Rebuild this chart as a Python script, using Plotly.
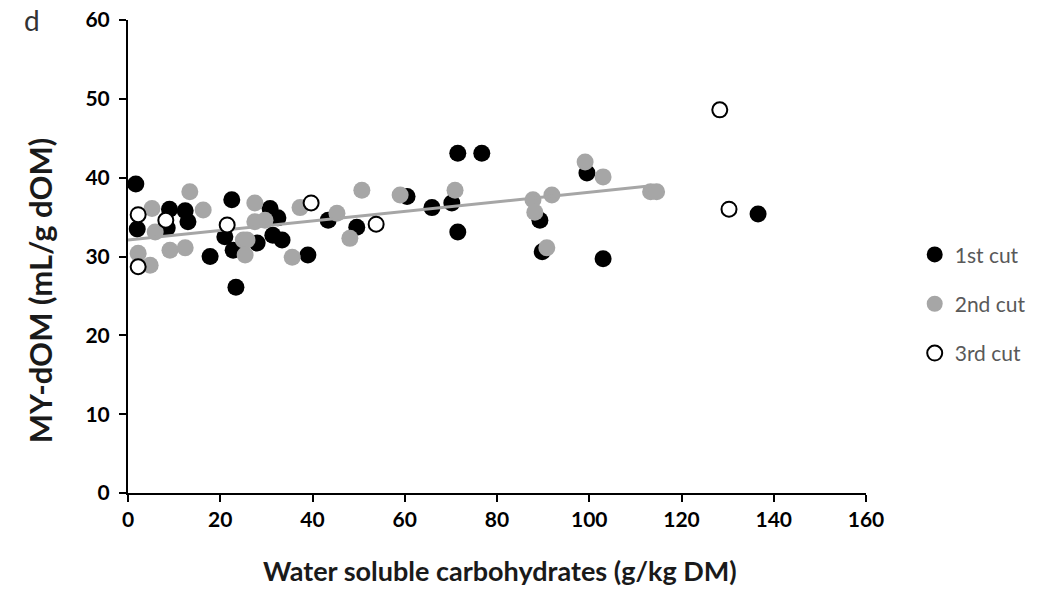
import plotly.graph_objects as go

# ---- data ----
first_x = [1.7, 2.0, 9.0, 12.4, 13.0, 8.5, 22.5, 17.8, 21.0, 22.8, 23.4, 30.8, 32.5, 31.4, 33.4, 28.0,
           39.0, 43.4, 49.6, 71.5, 76.7, 60.5, 65.9, 70.2, 71.5, 99.5, 89.3, 89.8, 103.0, 136.6]
first_y = [39.2, 33.5, 36.0, 35.8, 34.4, 33.6, 37.2, 30.0, 32.5, 30.8, 26.1, 36.1, 34.9, 32.7, 32.1, 31.7,
           30.2, 34.6, 33.7, 43.1, 43.1, 37.6, 36.2, 36.8, 33.1, 40.6, 34.6, 30.6, 29.7, 35.4]

second_x = [13.4, 5.2, 16.3, 5.9, 9.1, 12.4, 2.2, 4.8, 25.0, 27.5, 37.3, 50.7, 27.5, 25.8, 25.4, 35.6,
            45.3, 48.1, 29.7, 59.0, 70.9, 99.1, 103.0, 91.9, 87.8, 88.2, 90.8, 113.3, 114.6]
second_y = [38.2, 36.1, 35.9, 33.1, 30.8, 31.1, 30.4, 28.9, 32.1, 36.8, 36.2, 38.4, 34.4, 32.1, 30.2, 29.9,
            35.5, 32.3, 34.6, 37.8, 38.4, 42.0, 40.1, 37.8, 37.2, 35.6, 31.1, 38.2, 38.2]

third_x = [2.2, 2.2, 8.2, 21.5, 39.7, 53.8, 128.3, 130.3]
third_y = [35.3, 28.7, 34.6, 34.0, 36.8, 34.1, 48.6, 36.0]

trend_x = [0, 114]
trend_y = [32.1, 39.0]

series_names = ["1st cut", "2nd cut", "3rd cut"]
x_ticks = [0, 20, 40, 60, 80, 100, 120, 140, 160]
y_ticks = [0, 10, 20, 30, 40, 50, 60]
x_title = "Water soluble carbohydrates (g/kg DM)"
y_title = "MY-dOM (mL/g dOM)"
panel_label = "d"

FONT = "Lato"

fig = go.Figure()
fig.add_trace(go.Scatter(x=first_x, y=first_y, mode="markers", name=series_names[0],
                         legendgroup="a",
                         marker=dict(size=17, color="black", line=dict(width=0))))
fig.add_trace(go.Scatter(x=second_x, y=second_y, mode="markers", name=series_names[1],
                         legendgroup="b",
                         marker=dict(size=17, color="#a6a6a6", line=dict(width=0))))
fig.add_trace(go.Scatter(x=trend_x, y=trend_y, mode="lines", showlegend=False,
                         line=dict(color="#a6a6a6", width=3)))
fig.add_trace(go.Scatter(x=third_x, y=third_y, mode="markers", name=series_names[2],
                         legendgroup="c",
                         marker=dict(size=15, color="white", line=dict(width=2, color="black"))))

fig.update_layout(
    width=1058, height=589,
    margin=dict(l=128, r=192, t=20, b=96, autoexpand=False),
    plot_bgcolor="white", paper_bgcolor="white",
    font=dict(family=FONT, color="black"),
    showlegend=True,
    legend=dict(x=1.066, y=0.40, xanchor="left", yanchor="middle",
                font=dict(family=FONT, size=21, color="#595959"),
                tracegroupgap=19, itemwidth=30,
                bgcolor="rgba(0,0,0,0)"),
    xaxis=dict(range=[0, 160], tickvals=x_ticks, ticks="outside", ticklen=7, tickwidth=2,
               tickcolor="black", showline=True, linecolor="black", linewidth=2,
               showgrid=False, zeroline=False, automargin=False,
               tickfont=dict(family=FONT, size=21, color="black", weight="bold")),
    yaxis=dict(range=[0, 60], tickvals=y_ticks, ticks="outside", ticklen=7, tickwidth=2,
               tickcolor="black", showline=True, linecolor="black", linewidth=2,
               showgrid=False, zeroline=False, ticklabelstandoff=5, automargin=False,
               tickfont=dict(family=FONT, size=21, color="black", weight="bold")),
    annotations=[
        dict(text=panel_label, xref="paper", yref="paper", x=-0.13, y=1.0,
             xanchor="center", yanchor="middle", showarrow=False,
             font=dict(family=FONT, size=28, color="#333333")),
        dict(text=x_title, xref="paper", yref="paper", x=0.504, y=-0.163,
             xanchor="center", yanchor="middle", showarrow=False,
             font=dict(family=FONT, size=27, color="#1a1a1a", weight="bold")),
        dict(text=y_title, xref="paper", yref="paper", x=-0.119, y=0.429, textangle=-90,
             xanchor="center", yanchor="middle", showarrow=False,
             font=dict(family=FONT, size=31, color="#1a1a1a", weight="bold")),
    ],
)

fig.write_html("out.html")
